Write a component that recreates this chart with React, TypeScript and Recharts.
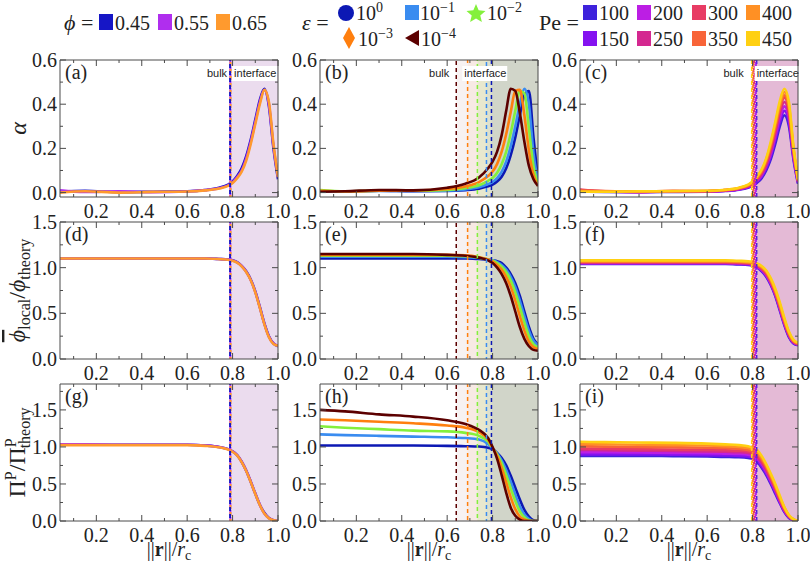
import React from "react";
import { LineChart, Line, XAxis, YAxis, ReferenceArea, ReferenceLine } from "recharts";

// radial position ||r||/r_c
const R = [0.04, 0.15, 0.3, 0.45, 0.6, 0.68, 0.74, 0.78, 0.8, 0.82, 0.84, 0.86, 0.88, 0.9, 0.92, 0.94, 0.96, 0.98, 1.0];

const PHI_LABELS = ["0.45", "0.55", "0.65"];
const PHI_COLORS = ["#1616c6", "#b02eee", "#ff9a2e"];
const PHI_BOUNDS = [0.789, 0.79, 0.791];

const EPS_EXPONENTS = ["0", "\u22121", "\u22122", "\u22123", "\u22124"];
const EPS_COLORS = ["#0c18b4", "#3a8cf0", "#84f03c", "#ff7f0e", "#5c0000"];
const EPS_BOUNDS = [0.795, 0.773, 0.733, 0.69, 0.64];

const PE_LABELS = ["100", "150", "200", "250", "300", "350", "400", "450"];
const PE_COLORS = ["#3e22dc", "#8412f0", "#bc1ee4", "#d42890", "#e83c64", "#f86438", "#ff9024", "#ffd012"];
const PE_BOUNDS = [0.818, 0.815, 0.812, 0.808, 0.805, 0.802, 0.799, 0.796];

// row 1: alpha
const alphaPhi045 = [0.004, 0.008, 0.002, 0.004, 0.006, 0.012, 0.022, 0.036, 0.05, 0.075, 0.11, 0.165, 0.24, 0.33, 0.42, 0.47, 0.39, 0.2, 0.06];
const alphaPhi055 = [0.01, 0.003, 0.006, 0.002, 0.005, 0.011, 0.02, 0.033, 0.046, 0.07, 0.1, 0.155, 0.23, 0.32, 0.41, 0.465, 0.4, 0.21, 0.07];
const alphaPhi065 = [0.0, 0.006, 0.0, 0.003, 0.005, 0.01, 0.018, 0.03, 0.043, 0.065, 0.095, 0.145, 0.22, 0.31, 0.4, 0.465, 0.41, 0.22, 0.07];

const alphaEps0 = [0.005, 0.004, 0.008, 0.006, 0.007, 0.011, 0.018, 0.028, 0.036, 0.05, 0.072, 0.11, 0.17, 0.25, 0.35, 0.44, 0.46, 0.25, 0.06];
const alphaEps1 = [0.006, 0.005, 0.007, 0.007, 0.009, 0.014, 0.024, 0.038, 0.048, 0.066, 0.094, 0.14, 0.21, 0.3, 0.4, 0.47, 0.4, 0.18, 0.05];
const alphaEps2 = [0.012, 0.006, 0.008, 0.008, 0.012, 0.02, 0.033, 0.053, 0.066, 0.09, 0.128, 0.185, 0.27, 0.37, 0.46, 0.45, 0.29, 0.12, 0.04];
const alphaEps3 = [0.008, 0.005, 0.008, 0.009, 0.016, 0.028, 0.047, 0.075, 0.095, 0.13, 0.185, 0.265, 0.365, 0.46, 0.465, 0.35, 0.19, 0.08, 0.03];
const alphaEps4 = [0.004, 0.006, 0.012, 0.01, 0.022, 0.04, 0.068, 0.11, 0.14, 0.185, 0.26, 0.37, 0.47, 0.46, 0.36, 0.23, 0.12, 0.06, 0.03];

const alphaPe100 = [0.005, 0.003, 0.002, 0.003, 0.004, 0.007, 0.013, 0.022, 0.03, 0.045, 0.065, 0.1, 0.15, 0.22, 0.3, 0.35, 0.3, 0.15, 0.04];
const alphaPe150 = [0.008, 0.004, 0.003, 0.004, 0.005, 0.008, 0.014, 0.024, 0.033, 0.05, 0.072, 0.11, 0.165, 0.24, 0.32, 0.37, 0.32, 0.16, 0.045];
const alphaPe200 = [0.01, 0.005, 0.002, 0.006, 0.005, 0.009, 0.015, 0.026, 0.036, 0.054, 0.078, 0.12, 0.175, 0.255, 0.34, 0.39, 0.34, 0.17, 0.05];
const alphaPe250 = [0.012, 0.004, 0.004, 0.005, 0.006, 0.01, 0.017, 0.028, 0.039, 0.058, 0.084, 0.125, 0.185, 0.27, 0.36, 0.41, 0.355, 0.18, 0.05];
const alphaPe300 = [0.014, 0.006, 0.003, 0.007, 0.006, 0.011, 0.018, 0.03, 0.042, 0.062, 0.09, 0.135, 0.2, 0.285, 0.375, 0.43, 0.37, 0.19, 0.055];
const alphaPe350 = [0.01, 0.007, 0.005, 0.006, 0.007, 0.012, 0.02, 0.032, 0.045, 0.066, 0.095, 0.14, 0.21, 0.295, 0.385, 0.44, 0.38, 0.195, 0.055];
const alphaPe400 = [0.006, 0.005, 0.004, 0.008, 0.007, 0.012, 0.021, 0.034, 0.048, 0.07, 0.1, 0.15, 0.22, 0.31, 0.4, 0.455, 0.395, 0.2, 0.06];
const alphaPe450 = [0.004, 0.004, 0.006, 0.006, 0.008, 0.013, 0.022, 0.036, 0.05, 0.074, 0.105, 0.155, 0.23, 0.32, 0.415, 0.47, 0.41, 0.21, 0.06];

// row 2: phi_local / phi_theory
const phiPhi045 = [1.1, 1.1, 1.1, 1.1, 1.1, 1.1, 1.095, 1.09, 1.08, 1.06, 1.02, 0.96, 0.87, 0.74, 0.57, 0.39, 0.25, 0.17, 0.14];
const phiPhi055 = [1.1, 1.1, 1.1, 1.1, 1.1, 1.1, 1.095, 1.088, 1.078, 1.058, 1.018, 0.955, 0.865, 0.735, 0.565, 0.385, 0.245, 0.17, 0.145];
const phiPhi065 = [1.1, 1.1, 1.1, 1.1, 1.1, 1.1, 1.094, 1.087, 1.077, 1.056, 1.015, 0.952, 0.862, 0.73, 0.56, 0.38, 0.24, 0.165, 0.145];

const phiEps0 = [1.1, 1.1, 1.1, 1.1, 1.1, 1.1, 1.095, 1.09, 1.08, 1.07, 1.05, 1.0, 0.93, 0.83, 0.69, 0.52, 0.35, 0.22, 0.16];
const phiEps1 = [1.12, 1.12, 1.12, 1.12, 1.12, 1.115, 1.105, 1.09, 1.08, 1.06, 1.03, 0.98, 0.9, 0.79, 0.64, 0.47, 0.31, 0.2, 0.15];
const phiEps2 = [1.13, 1.13, 1.13, 1.13, 1.13, 1.125, 1.11, 1.09, 1.08, 1.05, 1.01, 0.95, 0.86, 0.73, 0.57, 0.4, 0.25, 0.16, 0.13];
const phiEps3 = [1.14, 1.14, 1.14, 1.14, 1.14, 1.135, 1.115, 1.09, 1.07, 1.03, 0.98, 0.9, 0.79, 0.64, 0.47, 0.31, 0.19, 0.13, 0.11];
const phiEps4 = [1.15, 1.15, 1.15, 1.15, 1.14, 1.13, 1.11, 1.08, 1.05, 1.0, 0.93, 0.83, 0.69, 0.52, 0.35, 0.22, 0.14, 0.1, 0.09];

const phiPe100 = [1.04, 1.04, 1.04, 1.04, 1.04, 1.04, 1.035, 1.03, 1.02, 1.0, 0.96, 0.9, 0.81, 0.69, 0.53, 0.37, 0.24, 0.17, 0.15];
const phiPe150 = [1.045, 1.045, 1.045, 1.045, 1.045, 1.045, 1.04, 1.035, 1.025, 1.005, 0.968, 0.91, 0.82, 0.7, 0.545, 0.38, 0.25, 0.175, 0.155];
const phiPe200 = [1.05, 1.05, 1.05, 1.05, 1.05, 1.05, 1.045, 1.04, 1.03, 1.012, 0.976, 0.92, 0.83, 0.71, 0.555, 0.39, 0.26, 0.18, 0.16];
const phiPe250 = [1.055, 1.055, 1.055, 1.055, 1.055, 1.055, 1.05, 1.045, 1.036, 1.019, 0.984, 0.93, 0.84, 0.72, 0.565, 0.4, 0.265, 0.185, 0.16];
const phiPe300 = [1.06, 1.06, 1.06, 1.06, 1.06, 1.06, 1.055, 1.05, 1.042, 1.026, 0.992, 0.94, 0.85, 0.73, 0.575, 0.41, 0.27, 0.19, 0.165];
const phiPe350 = [1.065, 1.065, 1.065, 1.065, 1.065, 1.065, 1.06, 1.055, 1.048, 1.032, 1.0, 0.95, 0.86, 0.74, 0.585, 0.42, 0.28, 0.195, 0.17];
const phiPe400 = [1.07, 1.07, 1.07, 1.07, 1.07, 1.07, 1.065, 1.06, 1.054, 1.038, 1.008, 0.96, 0.87, 0.75, 0.6, 0.43, 0.29, 0.2, 0.17];
const phiPe450 = [1.08, 1.08, 1.08, 1.08, 1.08, 1.08, 1.075, 1.07, 1.062, 1.046, 1.018, 0.97, 0.885, 0.77, 0.62, 0.45, 0.3, 0.21, 0.18];

// row 3: Pi^P / Pi^P_theory
const piPhi045 = [1.03, 1.03, 1.03, 1.03, 1.03, 1.02, 1.0, 0.97, 0.94, 0.89, 0.8, 0.68, 0.53, 0.37, 0.22, 0.11, 0.04, 0.01, 0.0];
const piPhi055 = [1.035, 1.035, 1.03, 1.03, 1.03, 1.02, 1.0, 0.97, 0.94, 0.89, 0.8, 0.68, 0.53, 0.37, 0.22, 0.1, 0.04, 0.01, 0.0];
const piPhi065 = [1.025, 1.025, 1.025, 1.025, 1.025, 1.015, 0.995, 0.965, 0.935, 0.885, 0.795, 0.675, 0.525, 0.365, 0.215, 0.1, 0.035, 0.01, 0.0];

const piEps0 = [1.02, 1.02, 1.02, 1.02, 1.015, 1.01, 1.005, 0.99, 0.97, 0.92, 0.85, 0.75, 0.61, 0.45, 0.29, 0.15, 0.06, 0.01, 0.0];
const piEps1 = [1.17, 1.16, 1.15, 1.14, 1.13, 1.12, 1.1, 1.04, 0.98, 0.91, 0.82, 0.69, 0.53, 0.36, 0.2, 0.09, 0.03, 0.0, 0.0];
const piEps2 = [1.28, 1.26, 1.24, 1.22, 1.21, 1.19, 1.15, 1.07, 0.98, 0.9, 0.78, 0.62, 0.44, 0.27, 0.13, 0.05, 0.01, 0.0, 0.0];
const piEps3 = [1.37, 1.36, 1.34, 1.32, 1.29, 1.26, 1.2, 1.1, 0.99, 0.88, 0.72, 0.52, 0.32, 0.16, 0.06, 0.02, 0.0, 0.0, 0.0];
const piEps4 = [1.5, 1.48, 1.44, 1.41, 1.36, 1.31, 1.23, 1.12, 1.0, 0.84, 0.62, 0.38, 0.18, 0.07, 0.02, 0.0, 0.0, 0.0, 0.0];

const piPe100 = [0.88, 0.88, 0.88, 0.875, 0.87, 0.865, 0.86, 0.85, 0.84, 0.8, 0.72, 0.62, 0.5, 0.37, 0.24, 0.12, 0.04, 0.01, 0.0];
const piPe150 = [0.9, 0.9, 0.9, 0.895, 0.89, 0.885, 0.88, 0.87, 0.86, 0.82, 0.74, 0.64, 0.52, 0.39, 0.25, 0.13, 0.05, 0.01, 0.0];
const piPe200 = [0.93, 0.93, 0.925, 0.92, 0.915, 0.91, 0.905, 0.895, 0.88, 0.845, 0.77, 0.665, 0.54, 0.41, 0.27, 0.14, 0.055, 0.015, 0.0];
const piPe250 = [0.96, 0.955, 0.95, 0.945, 0.94, 0.935, 0.93, 0.92, 0.9, 0.865, 0.79, 0.69, 0.56, 0.43, 0.28, 0.15, 0.06, 0.015, 0.0];
const piPe300 = [0.98, 0.975, 0.97, 0.965, 0.96, 0.955, 0.95, 0.94, 0.92, 0.885, 0.81, 0.71, 0.58, 0.445, 0.295, 0.16, 0.065, 0.02, 0.0];
const piPe350 = [1.01, 1.005, 1.0, 0.995, 0.99, 0.985, 0.975, 0.96, 0.945, 0.91, 0.835, 0.73, 0.6, 0.46, 0.31, 0.17, 0.07, 0.02, 0.0];
const piPe400 = [1.04, 1.035, 1.03, 1.025, 1.02, 1.01, 1.0, 0.985, 0.965, 0.93, 0.855, 0.75, 0.62, 0.48, 0.32, 0.18, 0.075, 0.02, 0.0];
const piPe450 = [1.07, 1.065, 1.06, 1.055, 1.045, 1.035, 1.025, 1.01, 0.99, 0.96, 0.88, 0.77, 0.64, 0.5, 0.34, 0.19, 0.08, 0.025, 0.0];

const X_TICKS = [0.1, 0.2, 0.3, 0.4, 0.5, 0.6, 0.7, 0.8, 0.9, 1.0];
const ALPHA_TICKS = [0, 0.1, 0.2, 0.3, 0.4, 0.5, 0.6];
const PHI_TICKS = [0, 0.25, 0.5, 0.75, 1.0, 1.25, 1.5];
const PI_TICKS = [0, 0.25, 0.5, 0.75, 1.0, 1.25, 1.5, 1.75];

const SERIF = '"Liberation Serif", "DejaVu Serif", "Times New Roman", serif';
const SANS = '"Liberation Sans", Arial, sans-serif';
const FRAME = "#4a4a4a";
const TXT = 20;

const COL_X = [60, 320, 580];
const ROW_Y = [60, 222, 384];
const PW = 218;
const PH = 137;
const AXL = 46;
const AXR = 18;
const AXT = 12;
const AXB = 30;

function isMajor(v: number, step: number) {
    return Math.abs(v / step - Math.round(v / step)) < 1e-6;
}

function makeTick(side: string, step: number) {
    return (props: any) => {
        const { x, y, payload } = props;
        const v = payload.value;
        const major = isMajor(v, step);
        const len = major ? 6 : 3;
        if (side === "bottom") {
            return (
                <g>
                    <line x1={x} x2={x} y1={y} y2={y - len} stroke={FRAME} />
                    {major && (
                        <text x={x} y={y + 21} textAnchor="middle" style={{ fontFamily: SERIF, fontSize: TXT }} fill="#222">
                            {v.toFixed(1)}
                        </text>
                    )}
                </g>
            );
        }
        if (side === "top") return <line x1={x} x2={x} y1={y} y2={y + len} stroke={FRAME} />;
        if (side === "right") return <line x1={x} x2={x - len} y1={y} y2={y} stroke={FRAME} />;
        return (
            <g>
                <line x1={x} x2={x + len} y1={y} y2={y} stroke={FRAME} />
                {major && (
                    <text x={x - 3} y={y + 7} textAnchor="end" style={{ fontFamily: SERIF, fontSize: TXT }} fill="#222">
                        {v.toFixed(1)}
                    </text>
                )}
            </g>
        );
    };
}

function BoundaryLabel(props: any) {
    const { viewBox, gapL, gapR } = props;
    if (!viewBox) return null;
    const x = viewBox.x;
    const y = viewBox.y;
    return (
        <g style={{ fontFamily: SANS, fontSize: 11 }} fill="#222">
            <text x={x - gapL} y={y + 17} textAnchor="end">bulk</text>
            <rect x={x + gapR - 2} y={y + 6} width={45} height={15} fill="#fff" />
            <text x={x + gapR} y={y + 17}>interface</text>
        </g>
    );
}

interface PanelProps {
    col: number;
    row: number;
    series: number[][];
    colors: string[];
    bounds: number[];
    shades: number[];
    dashWidth: number;
    yDomain: [number, number];
    yTicks: number[];
    yStep: number;
    gaps: [number, number];
}

function Panel({ col, row, series, colors, bounds, shades, dashWidth, yDomain, yTicks, yStep, gaps }: PanelProps) {
    const data = R.map((r, i) => {
        const point: any = { r };
        series.forEach((s, k) => (point["s" + k] = s[i]));
        return point;
    });
    const first = bounds.indexOf(Math.min(...bounds));
    const order = bounds.map((_, k) => k).filter((k) => k !== first).concat([first]);

    return (
        <div style={{ position: "absolute", left: COL_X[col] - AXL, top: ROW_Y[row] - AXT }}>
            <LineChart width={AXL + PW + AXR} height={AXT + PH + AXB} data={data} margin={{ top: 0, right: 0, bottom: 0, left: 0 }}>
                <XAxis dataKey="r" type="number" domain={[0.04, 1]} allowDataOverflow ticks={X_TICKS} interval={0}
                    height={AXB} tickSize={0} tickMargin={0} tickLine={false} axisLine={{ stroke: FRAME }} tick={makeTick("bottom", 0.2)} />
                <XAxis xAxisId="top" orientation="top" dataKey="r" type="number" domain={[0.04, 1]} allowDataOverflow ticks={X_TICKS} interval={0}
                    height={AXT} tickSize={0} tickMargin={0} tickLine={false} axisLine={{ stroke: FRAME }} tick={makeTick("top", 0.2)} />
                <YAxis type="number" domain={yDomain} allowDataOverflow ticks={yTicks} interval={0}
                    width={AXL} tickSize={0} tickMargin={0} tickLine={false} axisLine={{ stroke: FRAME }} tick={makeTick("left", yStep)} />
                <YAxis yAxisId="right" orientation="right" type="number" domain={yDomain} allowDataOverflow ticks={yTicks} interval={0}
                    width={AXR} tickSize={0} tickMargin={0} tickLine={false} axisLine={{ stroke: FRAME }} tick={makeTick("right", yStep)} />
                {bounds.map((b, k) => (
                    <ReferenceArea key={"a" + k} x1={b} x2={1} fill={colors[k]} fillOpacity={shades[k]} stroke="none" />
                ))}
                {series.map((_, k) => (
                    <Line key={"l" + k} type="monotone" dataKey={"s" + k} stroke={colors[k]} strokeWidth={2.6}
                        dot={false} activeDot={false} isAnimationActive={false} />
                ))}
                {order.map((k, j) => (
                    <ReferenceLine key={"d" + k} x={bounds[k]} stroke={colors[k]} strokeWidth={dashWidth}
                        strokeDasharray="4 3" strokeDashoffset={j * 2}
                        label={row === 0 && k === first ? <BoundaryLabel gapL={gaps[0]} gapR={gaps[1]} /> : undefined} />
                ))}
            </LineChart>
        </div>
    );
}

const ROWS = [
    { domain: [-0.02, 0.6] as [number, number], ticks: ALPHA_TICKS, step: 0.2, sets: [[alphaPhi045, alphaPhi055, alphaPhi065], [alphaEps0, alphaEps1, alphaEps2, alphaEps3, alphaEps4], [alphaPe100, alphaPe150, alphaPe200, alphaPe250, alphaPe300, alphaPe350, alphaPe400, alphaPe450]] },
    { domain: [0, 1.5] as [number, number], ticks: PHI_TICKS, step: 0.5, sets: [[phiPhi045, phiPhi055, phiPhi065], [phiEps0, phiEps1, phiEps2, phiEps3, phiEps4], [phiPe100, phiPe150, phiPe200, phiPe250, phiPe300, phiPe350, phiPe400, phiPe450]] },
    { domain: [0, 1.85] as [number, number], ticks: PI_TICKS, step: 0.5, sets: [[piPhi045, piPhi055, piPhi065], [piEps0, piEps1, piEps2, piEps3, piEps4], [piPe100, piPe150, piPe200, piPe250, piPe300, piPe350, piPe400, piPe450]] },
];

const COLS = [
    { colors: PHI_COLORS, bounds: PHI_BOUNDS, shades: [0.07, 0.07, 0.06], dash: 2, gaps: [3, 4] as [number, number] },
    { colors: EPS_COLORS, bounds: EPS_BOUNDS, shades: [0.07, 0.07, 0.12, 0.06, 0.05], dash: 1.5, gaps: [7, 8] as [number, number] },
    { colors: PE_COLORS, bounds: PE_BOUNDS, shades: [0.07, 0.07, 0.07, 0.06, 0.05, 0.04, 0.03, 0.03], dash: 1.5, gaps: [8, 5] as [number, number] },
];

const LETTERS = ["a", "b", "c", "d", "e", "f", "g", "h", "i"];

function star(cx: number, cy: number, ro: number, ri: number) {
    const pts: string[] = [];
    for (let i = 0; i < 10; i++) {
        const a = -Math.PI / 2 + (i * Math.PI) / 5;
        const rr = i % 2 === 0 ? ro : ri;
        pts.push(`${cx + rr * Math.cos(a)},${cy + rr * Math.sin(a)}`);
    }
    return pts.join(" ");
}

function Pow({ x, y, exp }: { x: number; y: number; exp: string }) {
    return (
        <text x={x} y={y} style={{ fontFamily: SERIF, fontSize: TXT }} fill="#222">
            10<tspan dy={-8} style={{ fontSize: 14 }}>{exp}</tspan>
        </text>
    );
}

function Overlay() {
    const phiX = [99, 158, 216];
    const peX = [583, 637, 692, 746];
    return (
        <svg width={810} height={566} style={{ position: "absolute", left: 0, top: 0, pointerEvents: "none", fontFamily: SERIF }}>
            {/* legends */}
            <g style={{ fontFamily: SERIF, fontSize: TXT }} fill="#222">
                <text x={64} y={30} style={{ fontSize: 22 }}><tspan fontStyle="italic">{"\u03D5"}</tspan> =</text>
                {PHI_LABELS.map((l, i) => (
                    <g key={l}>
                        <rect x={phiX[i]} y={14} width={14} height={16} fill={PHI_COLORS[i]} />
                        <text x={phiX[i] + 16} y={30}>{l}</text>
                    </g>
                ))}
                <text x={302} y={30} style={{ fontSize: 22 }}><tspan fontStyle="italic">{"\u03B5"}</tspan> =</text>
                <text x={539} y={30} style={{ fontSize: 22 }}>Pe =</text>
                {PE_LABELS.map((l, i) => {
                    const x = peX[Math.floor(i / 2)];
                    const y = i % 2 === 0 ? 5 : 31;
                    return (
                        <g key={l}>
                            <rect x={x} y={y} width={14} height={15} fill={PE_COLORS[i]} />
                            <text x={x + 16} y={y + 15}>{l}</text>
                        </g>
                    );
                })}
            </g>
            <circle cx={346} cy={13} r={8} fill={EPS_COLORS[0]} />
            <Pow x={356} y={20} exp={EPS_EXPONENTS[0]} />
            <rect x={405} y={5} width={14} height={15} fill={EPS_COLORS[1]} />
            <Pow x={420} y={20} exp={EPS_EXPONENTS[1]} />
            <polygon points={star(476, 14, 10, 4.5)} fill={EPS_COLORS[2]} />
            <Pow x={487} y={20} exp={EPS_EXPONENTS[2]} />
            <polygon points="349,27 355,38 349,49 343,38" fill={EPS_COLORS[3]} />
            <Pow x={358} y={46} exp={EPS_EXPONENTS[3]} />
            <polygon points="405,38 419,30 419,46" fill={EPS_COLORS[4]} />
            <Pow x={421} y={46} exp={EPS_EXPONENTS[4]} />

            {/* panel letters */}
            {LETTERS.map((l, i) => (
                <text key={l} x={COL_X[i % 3] + 5} y={ROW_Y[Math.floor(i / 3)] + 19} style={{ fontFamily: SERIF, fontSize: TXT }} fill="#222">
                    ({l})
                </text>
            ))}

            {/* y titles */}
            <g style={{ fontFamily: SERIF }} fill="#222">
                <text transform={`translate(26,${ROW_Y[0] + PH / 2}) rotate(-90)`} textAnchor="middle" style={{ fontSize: 24, fontStyle: "italic" }}>
                    {"\u03B1"}
                </text>
                <text transform={`translate(25,${ROW_Y[1] + PH / 2}) rotate(-90)`} textAnchor="middle" style={{ fontSize: 24 }}>
                    <tspan style={{ fontStyle: "italic", textDecoration: "overline" }}>{"\u03D5"}</tspan>
                    <tspan style={{ fontSize: 16 }} dy={5}>local</tspan>
                    <tspan dy={-5}>/</tspan>
                    <tspan style={{ fontStyle: "italic" }}>{"\u03D5"}</tspan>
                    <tspan style={{ fontSize: 16 }} dy={5}>theory</tspan>
                </text>
                <text transform={`translate(25,${ROW_Y[2] + PH / 2}) rotate(-90)`} textAnchor="middle" style={{ fontSize: 24 }}>
                    <tspan>{"\u03A0"}</tspan>
                    <tspan style={{ fontSize: 16 }} dy={-9}>P</tspan>
                    <tspan dy={9}>/</tspan>
                    <tspan>{"\u03A0"}</tspan>
                    <tspan style={{ fontSize: 16 }} dy={-9}>P</tspan>
                    <tspan style={{ fontSize: 16 }} dx={-10} dy={14}>theory</tspan>
                </text>
            </g>

            {/* x titles */}
            {COL_X.map((x, i) => (
                <text key={i} x={x + PW / 2} y={556} textAnchor="middle" style={{ fontFamily: SERIF, fontSize: TXT }} fill="#222">
                    ||<tspan fontWeight="bold">r</tspan>||/<tspan fontStyle="italic">r</tspan>
                    <tspan style={{ fontSize: 14 }} dy={4}>c</tspan>
                </text>
            ))}
        </svg>
    );
}

export default function App() {
    return (
        <div style={{ position: "absolute", left: 0, top: 0, width: 810, height: 566, background: "#fff", overflow: "hidden", fontFamily: SERIF }}>
            {ROWS.map((row, ri) =>
                COLS.map((c, ci) => (
                    <Panel key={ri + "-" + ci} col={ci} row={ri} series={row.sets[ci]} colors={c.colors} bounds={c.bounds}
                        shades={c.shades} dashWidth={c.dash} yDomain={row.domain} yTicks={row.ticks} yStep={row.step} gaps={c.gaps} />
                ))
            )}
            <Overlay />
        </div>
    );
}
